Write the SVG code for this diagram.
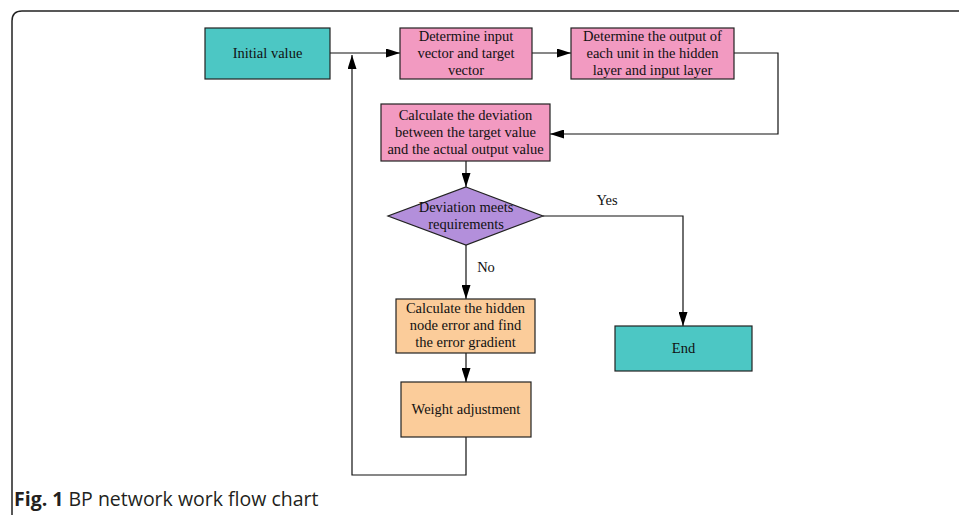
<svg xmlns="http://www.w3.org/2000/svg" width="959" height="515" viewBox="0 0 959 515">
<style>
.box{stroke:#222;stroke-width:1.2}
.teal{fill:#4CC7C4}
.pink{fill:#F29AC1}
.purple{fill:#B38FDB}
.orange{fill:#FBCC9A}
.t{font-family:"Liberation Serif",serif;font-size:14.5px;fill:#111;text-anchor:middle}
.c{fill:none;stroke:#111;stroke-width:1.2}
.cap{font-family:"Open Sans",sans-serif;font-size:19.5px;fill:#231F20}
</style>
<defs>
<marker id="ah" markerWidth="14" markerHeight="9" refX="14" refY="4.5" orient="auto" markerUnits="userSpaceOnUse" viewBox="0 0 14 9">
<path d="M0,0 L14,4.5 L0,9 z" fill="#000"/>
</marker>
</defs>
<rect width="959" height="515" fill="#fff"/>
<path d="M12,515 L12,21 Q12,11 22,11 L959,11" fill="none" stroke="#222" stroke-width="1.5"/>
<g id="connectors">
<line class="c" x1="330" y1="53" x2="400" y2="53" marker-end="url(#ah)"/>
<line class="c" x1="532" y1="53" x2="571" y2="53" marker-end="url(#ah)"/>
<polyline class="c" points="734,53 778,53 778,134 550,134" marker-end="url(#ah)"/>
<line class="c" x1="466" y1="161" x2="466" y2="187" marker-end="url(#ah)"/>
<polyline class="c" points="543,216 683,216 683,326" marker-end="url(#ah)"/>
<line class="c" x1="466" y1="245" x2="466" y2="299" marker-end="url(#ah)"/>
<line class="c" x1="466" y1="353" x2="466" y2="382" marker-end="url(#ah)"/>
<polyline class="c" points="466,437 466,475 352,475 352,55" marker-end="url(#ah)"/>
<text class="t" x="607" y="205">Yes</text>
<text class="t" x="486" y="272">No</text>
</g>
<g id="initial">
<rect class="box teal" x="205" y="28" width="125" height="51"/>
<text class="t" x="267.5" y="58">Initial value</text>
</g>
<g id="input">
<rect class="box pink" x="400" y="28" width="132" height="51"/>
<text class="t" x="466" y="41">Determine input</text>
<text class="t" x="466" y="58">vector and target</text>
<text class="t" x="466" y="75">vector</text>
</g>
<g id="output">
<rect class="box pink" x="571" y="28" width="163" height="51"/>
<text class="t" x="652.5" y="41">Determine the output of</text>
<text class="t" x="652.5" y="58">each unit in the hidden</text>
<text class="t" x="652.5" y="75">layer and input layer</text>
</g>
<g id="deviation">
<rect class="box pink" x="381" y="104" width="169" height="57"/>
<text class="t" x="465.5" y="120">Calculate the deviation</text>
<text class="t" x="465.5" y="137">between the target value</text>
<text class="t" x="465.5" y="154">and the actual output value</text>
</g>
<g id="decision">
<polygon class="box purple" points="466,187 543,216 466,245 388,216"/>
<text class="t" x="466" y="212">Deviation meets</text>
<text class="t" x="466" y="229">requirements</text>
</g>
<g id="hidden">
<rect class="box orange" x="396" y="299" width="139" height="54"/>
<text class="t" x="465.5" y="313">Calculate the hidden</text>
<text class="t" x="465.5" y="330">node error and find</text>
<text class="t" x="465.5" y="347">the error gradient</text>
</g>
<g id="weight">
<rect class="box orange" x="401" y="382" width="130" height="55"/>
<text class="t" x="466" y="414">Weight adjustment</text>
</g>
<g id="end">
<rect class="box teal" x="615" y="326" width="137" height="45"/>
<text class="t" x="683.5" y="353">End</text>
</g>
<text class="cap" x="14" y="506"><tspan font-weight="bold">Fig. 1</tspan> BP network work flow chart</text>
</svg>
